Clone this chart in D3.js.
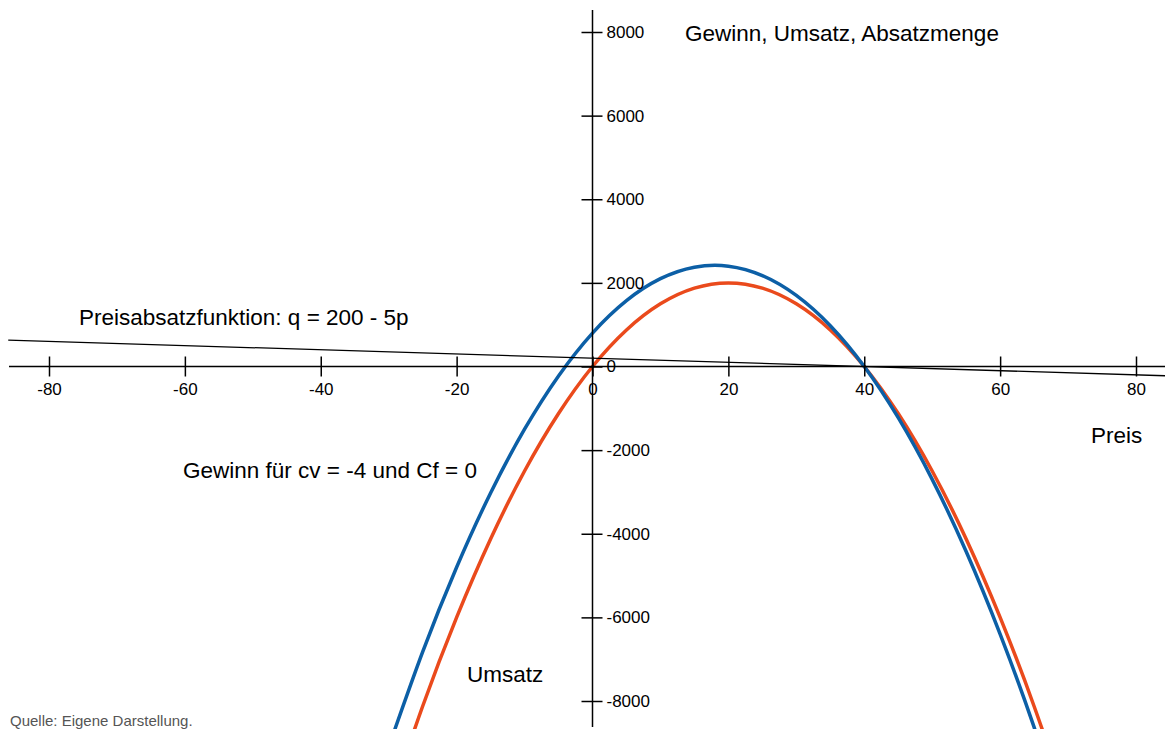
<!DOCTYPE html>
<html>
<head>
<meta charset="utf-8">
<script src="https://cdn.jsdelivr.net/npm/d3@7"></script>
<style>
  body { margin: 0; background: #fff; }
  svg { display: block; font-family: "Liberation Sans", Arial, sans-serif; }
  .tick text { font-size: 17px; fill: #000; }
</style>
</head>
<body>
<div id="chart"></div>
<script>
// values
const prices = [-30, -25, -20, -15, -10, -5, 0, 5, 10, 15, 20, 25, 30, 35, 40, 45, 50, 55, 60, 65, 70];
const umsatz = [-10500, -8125, -6000, -4125, -2500, -1125, 0, 875, 1500, 1875, 2000, 1875, 1500, 875, 0, -1125, -2500, -4125, -6000, -8125, -10500];
const gewinn = [-9100, -6825, -4800, -3025, -1500, -225, 800, 1575, 2100, 2375, 2400, 2175, 1700, 975, 0, -1225, -2700, -4425, -6400, -8625, -11100];
const demandPrices = [-86, 90];
const demandQty = [630, -250];
const xTicks = [-80, -60, -40, -20, 0, 20, 40, 60, 80];
const yTicks = [-8000, -6000, -4000, -2000, 0, 2000, 4000, 6000, 8000];

const W = 1165, H = 729;
const svg = d3.select('#chart').append('svg')
  .attr('width', W)
  .attr('height', H);

const x = d3.scaleLinear().domain([-80, 80]).range([49, 1136]);
const y = d3.scaleLinear().domain([-8000, 8000]).range([701, 32]);

// curves
const line = d3.line()
  .x(d => x(d[0]))
  .y(d => y(d[1]))
  .curve(d3.curveNatural);

svg.append('path')
  .datum(prices.map((p, i) => [p, umsatz[i]]))
  .attr('d', line)
  .attr('fill', 'none')
  .attr('stroke', '#ea4a1c')
  .attr('stroke-width', 3.5);

svg.append('path')
  .datum(prices.map((p, i) => [p, gewinn[i]]))
  .attr('d', line)
  .attr('fill', 'none')
  .attr('stroke', '#0c5fa6')
  .attr('stroke-width', 3.5);

// x axis
const xAxis = svg.append('g')
  .attr('transform', `translate(0,${y(0)})`)
  .call(d3.axisBottom(x).tickValues(xTicks).tickSize(10).tickSizeOuter(0).tickFormat(d => String(d)));
xAxis.select('.domain').remove();
xAxis.selectAll('.tick line').attr('y1', -10).attr('stroke-width', 1.5);
xAxis.selectAll('.tick text').attr('y', 16).attr('font-family', null);
xAxis.append('line')
  .attr('x1', 9).attr('x2', W)
  .attr('stroke', '#000').attr('stroke-width', 1.5);

// y axis
const yAxis = svg.append('g')
  .attr('transform', `translate(${x(0)},0)`)
  .call(d3.axisRight(y).tickValues(yTicks).tickSize(10).tickSizeOuter(0).tickFormat(d => String(d)));
yAxis.select('.domain').remove();
yAxis.selectAll('.tick line').attr('x1', -11).attr('stroke-width', 1.5);
yAxis.selectAll('.tick text').attr('x', 14).attr('font-family', null);
yAxis.append('line')
  .attr('y1', 10).attr('y2', 727)
  .attr('stroke', '#000').attr('stroke-width', 1.5);

// demand line
svg.append('path')
  .datum(demandPrices.map((p, i) => [p, demandQty[i]]))
  .attr('d', d3.line().x(d => x(d[0])).y(d => y(d[1])))
  .attr('stroke', '#000')
  .attr('stroke-width', 1.3);

// labels
const labels = [
  ['Gewinn, Umsatz, Absatzmenge', 685, 41],
  ['Preisabsatzfunktion: q = 200 - 5p', 79, 325],
  ['Preis', 1091, 443],
  ['Gewinn für cv = -4 und Cf = 0', 183, 478],
  ['Umsatz', 467, 682]
];
svg.selectAll('.label')
  .data(labels)
  .enter().append('text')
  .attr('class', 'label')
  .attr('x', d => d[1])
  .attr('y', d => d[2])
  .attr('font-size', '22.5px')
  .text(d => d[0]);

svg.append('text')
  .attr('x', 10).attr('y', 726)
  .attr('font-size', '15px')
  .attr('fill', '#555')
  .text('Quelle: Eigene Darstellung.');
</script>
</body>
</html>
